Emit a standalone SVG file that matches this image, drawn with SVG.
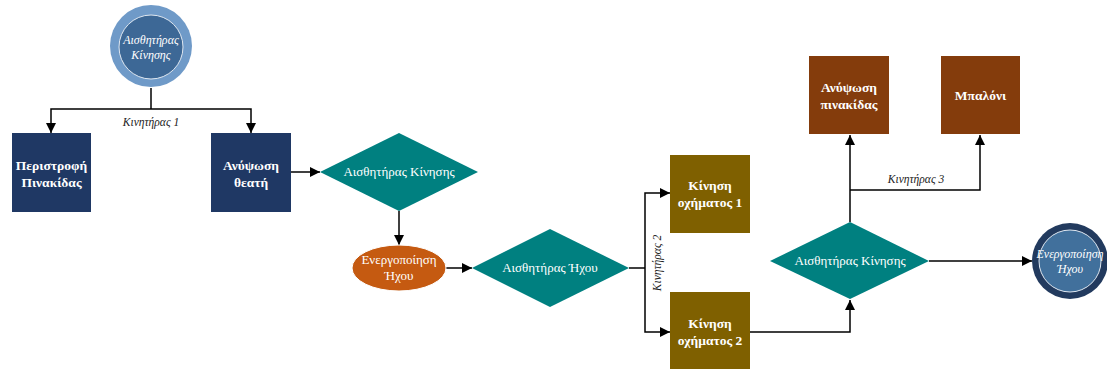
<svg xmlns="http://www.w3.org/2000/svg" width="1107" height="369" viewBox="0 0 1107 369">
<defs>
<marker id="arr" viewBox="0 0 10 10" refX="10" refY="5" markerWidth="10" markerHeight="10" markerUnits="userSpaceOnUse" orient="auto">
<path d="M0,0 L10,5 L0,10 z" fill="#000"/>
</marker>
<style>
.c{fill:none;stroke:#000;stroke-width:1.5}
.a{marker-end:url(#arr)}
.t{font-family:"Liberation Serif","DejaVu Serif",serif;fill:#fff;text-anchor:middle}
.b{font-weight:bold;font-size:13.5px}
.r{font-size:13px}
.i{font-style:italic;font-size:12px}
.lbl{font-family:"Liberation Serif","DejaVu Serif",serif;font-style:italic;font-size:11.5px;fill:#222;text-anchor:middle}
.navy{fill:#1f3864}
.olive{fill:#7f6000}
.brown{fill:#843c0c}
.teal{fill:#008080}
</style>
</defs>
<g id="connectors">
<path class="c" d="M151,88 V109"/>
<path class="c a" d="M151,109 H51 V133"/>
<path class="c a" d="M151,109 H251 V133"/>
<path class="c a" d="M291,172 H320"/>
<path class="c a" d="M399,211 V245"/>
<path class="c a" d="M446,268 H472"/>
<path class="c" d="M629,268 H645"/>
<path class="c a" d="M645,268 V193 H670"/>
<path class="c a" d="M645,268 V332 H670"/>
<path class="c a" d="M750,332 H850 V300"/>
<path class="c a" d="M850,222 V135"/>
<path class="c a" d="M850,190 H980 V135"/>
<path class="c a" d="M929,261 H1032"/>
<text class="lbl" x="151" y="126">Κινητήρας 1</text>
<text class="lbl" transform="translate(661,263) rotate(-90)">Κινητήρας 2</text>
<text class="lbl" x="916" y="183">Κινητήρας 3</text>
</g>
<g id="start">
<circle cx="151" cy="46" r="41" fill="#6f9ac8"/>
<circle cx="151" cy="47" r="32" fill="#3d6896" stroke="#dfe7f0" stroke-width="1"/>
<text class="t i" x="151" y="44">Αισθητήρας</text>
<text class="t i" x="151" y="59">Κίνησης</text>
</g>
<g id="n1">
<rect class="navy" x="12" y="133" width="79" height="79"/>
<text class="t b" x="51.5" y="170">Περιστροφή</text>
<text class="t b" x="51.5" y="187">Πινακίδας</text>
</g>
<g id="n2">
<rect class="navy" x="211" y="133" width="80" height="79"/>
<text class="t b" x="251" y="170">Ανύψωση</text>
<text class="t b" x="251" y="187">θεατή</text>
</g>
<g id="d1">
<polygon class="teal" points="320,172 399,133 478,172 399,211"/>
<text class="t r" x="399" y="176">Αισθητήρας Κίνησης</text>
</g>
<g id="e1">
<ellipse cx="399" cy="268" rx="47" ry="23" fill="#c55a11" stroke="#fff" stroke-width="1"/>
<text class="t r" x="399" y="264">Ενεργοποίηση</text>
<text class="t r" x="399" y="280">Ήχου</text>
</g>
<g id="d2">
<polygon class="teal" points="472,268 550,229 629,268 550,307"/>
<text class="t r" x="550" y="272">Αισθητήρας Ήχου</text>
</g>
<g id="n3">
<rect class="olive" x="670" y="155" width="80" height="78"/>
<text class="t b" x="710" y="190">Κίνηση</text>
<text class="t b" x="710" y="207">οχήματος 1</text>
</g>
<g id="n4">
<rect class="olive" x="670" y="292" width="80" height="78"/>
<text class="t b" x="710" y="328">Κίνηση</text>
<text class="t b" x="710" y="345">οχήματος 2</text>
</g>
<g id="d3">
<polygon class="teal" points="770,261 850,222 929,261 850,299"/>
<text class="t r" x="850" y="265">Αισθητήρας Κίνησης</text>
</g>
<g id="n5">
<rect class="brown" x="809" y="56" width="80" height="78"/>
<text class="t b" x="849" y="92">Ανύψωση</text>
<text class="t b" x="849" y="109">πινακίδας</text>
</g>
<g id="n6">
<rect class="brown" x="941" y="56" width="79" height="78"/>
<text class="t b" x="980.5" y="100">Μπαλόνι</text>
</g>
<g id="end">
<circle cx="1070" cy="261" r="38" fill="#223a5e"/>
<circle cx="1070" cy="261" r="31" fill="#41709c" stroke="#dfe7f0" stroke-width="1"/>
<text class="t i" x="1070" y="258">Ενεργοποίηση</text>
<text class="t i" x="1070" y="273">Ήχου</text>
</g>
</svg>
